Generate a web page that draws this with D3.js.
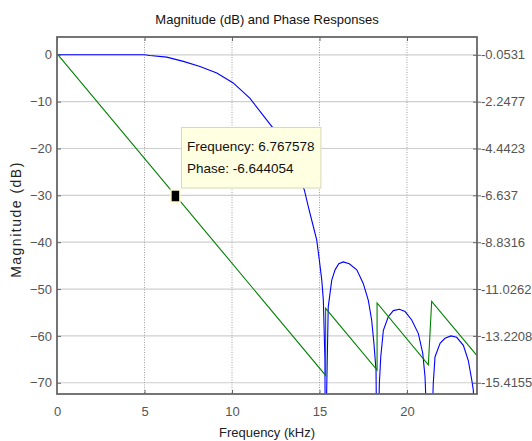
<!DOCTYPE html>
<html>
<head>
<meta charset="utf-8">
<script src="https://cdn.jsdelivr.net/npm/d3@7"></script>
<style>
  html, body { margin: 0; padding: 0; background: #fff; overflow: hidden; }
  svg { display: block; overflow: visible; }
  text { font-family: "Liberation Sans", Arial, sans-serif; }
</style>
</head>
<body>
<svg id="chart" width="532" height="441"></svg>
<script>
// ---- data ----
const freqTicks = [0, 5, 10, 15, 20];
const magTicks = [0, -10, -20, -30, -40, -50, -60, -70];
const phaseTickLabels = ["-0.0531", "-2.2477", "-4.4423", "-6.637", "-8.8316", "-11.0262", "-13.2208", "-15.4155"];
const phaseTickValues = [-0.0531, -2.2477, -4.4423, -6.637, -8.8316, -11.0262, -13.2208, -15.4155];

// magnitude response (blue), kHz / dB
const magFreq = [0, 2, 4, 5, 5.31, 6.27, 7.22, 8.17, 9.13, 10.07, 11.03, 11.98, 12.36, 13.3, 14.13, 14.36, 14.65, 14.84, 14.99, 15.13, 15.22, 15.27, 15.31, 15.34,
  15.41, 15.5, 15.7, 15.89, 16.1, 16.36, 16.7, 17.13, 17.5, 17.79, 17.98, 18.11, 18.23, 18.3,
  18.42, 18.5, 18.65, 18.93, 19.22, 19.56, 19.89, 20.27, 20.65, 20.9, 21.03, 21.3,
  21.5, 21.6, 21.89, 22.17, 22.51, 22.84, 23.22, 23.5, 23.7, 23.79, 23.9, 24];
const magDB = [0, 0, 0, 0, -0.15, -0.5, -1.4, -2.5, -3.9, -6.0, -9.3, -13.9, -15.7, -22.0, -28.8, -32.4, -36.7, -39.5, -43.8, -48.1, -52.4, -59.4, -65.2, -95,
  -71.6, -53.8, -48.1, -45.9, -44.6, -44.2, -44.6, -45.9, -48.8, -52.4, -56.6, -61.6, -67.3, -95,
  -70.2, -64.5, -58.8, -55.9, -54.6, -54.3, -54.8, -56.6, -59.5, -63.7, -68.7, -95,
  -70.2, -64.5, -61.6, -60.5, -60.0, -60.3, -62.0, -65.2, -69.4, -71.6, -95, -85];

// phase response (green), kHz / radians
const phaseFreq = [0, 15.35, 15.35, 18.29, 18.29, 21.22, 21.41, 24];
const phaseRad = [0, -15.07, -11.93, -14.82, -11.68, -14.58, -11.60, -14.14];

// data tip
const tipFreq = 6.767578;
const tipPhase = -6.644054;

// ---- layout ----
const L = 57, R = 477, T = 37, B = 394;
const svg = d3.select("#chart");

const x = d3.scaleLinear().domain([0, 24]).range([L, R]);
const yMag = d3.scaleLinear().domain([3.8, -72.4]).range([T, B]);
const yPhase = d3.scaleLinear()
  .domain([phaseTickValues[0], phaseTickValues[phaseTickValues.length - 1]])
  .range([yMag(magTicks[0]), yMag(magTicks[magTicks.length - 1])]);

svg.append("defs").append("clipPath").attr("id", "plotclip")
  .append("rect").attr("x", L).attr("y", T).attr("width", R - L).attr("height", B - T);

// grid
const grid = svg.append("g");
grid.selectAll("line.h").data(magTicks).enter().append("line")
  .attr("x1", L).attr("x2", R)
  .attr("y1", d => yMag(d)).attr("y2", d => yMag(d))
  .attr("stroke", "#cfcfcf").attr("stroke-width", 1.2);
grid.selectAll("line.v").data(freqTicks.slice(1)).enter().append("line")
  .attr("y1", T).attr("y2", B)
  .attr("x1", d => x(d)).attr("x2", d => x(d))
  .attr("stroke", "#a0a0a0").attr("stroke-width", 1).attr("stroke-dasharray", "1,1.5");

// curves
const plot = svg.append("g").attr("clip-path", "url(#plotclip)");
const magPts = magFreq.map((f, i) => [f, magDB[i]]);
plot.append("path")
  .attr("d", d3.line().x(d => x(d[0])).y(d => yMag(d[1]))(magPts))
  .attr("fill", "none").attr("stroke", "#0000ff").attr("stroke-width", 1.1);
const phPts = phaseFreq.map((f, i) => [f, phaseRad[i]]);
plot.append("path")
  .attr("d", d3.line().x(d => x(d[0])).y(d => yPhase(d[1]))(phPts))
  .attr("fill", "none").attr("stroke", "#008000").attr("stroke-width", 1.1);

// axes
const axisColor = "#666";
const labelColor = "#555";
function styleAxis(g) {
  g.select(".domain").remove();
  g.selectAll(".tick line").attr("stroke", axisColor).attr("stroke-width", 1);
  g.selectAll(".tick text").attr("fill", labelColor).style("font-size", "13px")
    .style("font-family", '"Liberation Sans", Arial, sans-serif');
}
svg.append("g").attr("transform", `translate(${L},0)`)
  .call(d3.axisLeft(yMag).tickValues(magTicks).tickSizeInner(-4).tickSizeOuter(0).tickPadding(5).tickFormat(d3.format("d")))
  .call(styleAxis);
svg.append("g").attr("transform", `translate(0,${B})`)
  .call(d3.axisBottom(x).tickValues(freqTicks).tickSizeInner(-4).tickSizeOuter(0).tickPadding(13).tickFormat(d3.format("d")))
  .call(styleAxis)
  .call(g => g.selectAll(".tick").filter(d => d === 0).select("line").remove());
svg.append("g").attr("transform", `translate(0,${T})`)
  .call(d3.axisTop(x).tickValues(freqTicks).tickSizeInner(-4).tickSizeOuter(0).tickFormat(""))
  .call(styleAxis);
svg.append("g").attr("transform", `translate(${R},0)`)
  .call(d3.axisRight(yPhase).tickValues(phaseTickValues).tickSizeInner(4).tickSizeOuter(0).tickPadding(0)
    .tickFormat((d, i) => phaseTickLabels[i]))
  .call(styleAxis)
  .call(g => g.selectAll(".tick line").attr("x1", -4));

// axes box
svg.append("rect").attr("x", L).attr("y", T).attr("width", R - L).attr("height", B - T)
  .attr("fill", "none").attr("stroke", axisColor).attr("stroke-width", 1.8);

// titles
svg.append("text").attr("x", (L + R) / 2).attr("y", 24).attr("text-anchor", "middle")
  .style("font-size", "13px").attr("fill", "#111").text("Magnitude (dB) and Phase Responses");
svg.append("text").attr("transform", `translate(21,${(T + B) / 2 + 4}) rotate(-90)`).attr("text-anchor", "middle")
  .style("font-size", "14px").style("letter-spacing", "1.5px").attr("fill", "#222").text("Magnitude (dB)");
svg.append("text").attr("x", (L + R) / 2).attr("y", 437).attr("text-anchor", "middle")
  .style("font-size", "13px").attr("fill", "#222").text("Frequency (kHz)");

// data tip
const mx = x(tipFreq), my = yPhase(tipPhase);
const tip = svg.append("g");
tip.append("rect").attr("x", mx + 6).attr("y", my - 68).attr("width", 139.5).attr("height", 60.5)
  .attr("fill", "#ffffe1").attr("stroke", "#d8d8b8").attr("stroke-width", 1);
tip.append("text").attr("x", mx + 11.5).attr("y", my - 45).style("font-size", "13.5px").attr("fill", "#111")
  .text("Frequency: " + tipFreq.toFixed(6));
tip.append("text").attr("x", mx + 11.5).attr("y", my - 23).style("font-size", "13.5px").attr("fill", "#111")
  .text("Phase: " + tipPhase.toFixed(6));
tip.append("rect").attr("x", mx - 4.5).attr("y", my - 5.5).attr("width", 9).attr("height", 12)
  .attr("fill", "#000").attr("stroke", "#fffcc8").attr("stroke-width", 1.5);
</script>
</body>
</html>
